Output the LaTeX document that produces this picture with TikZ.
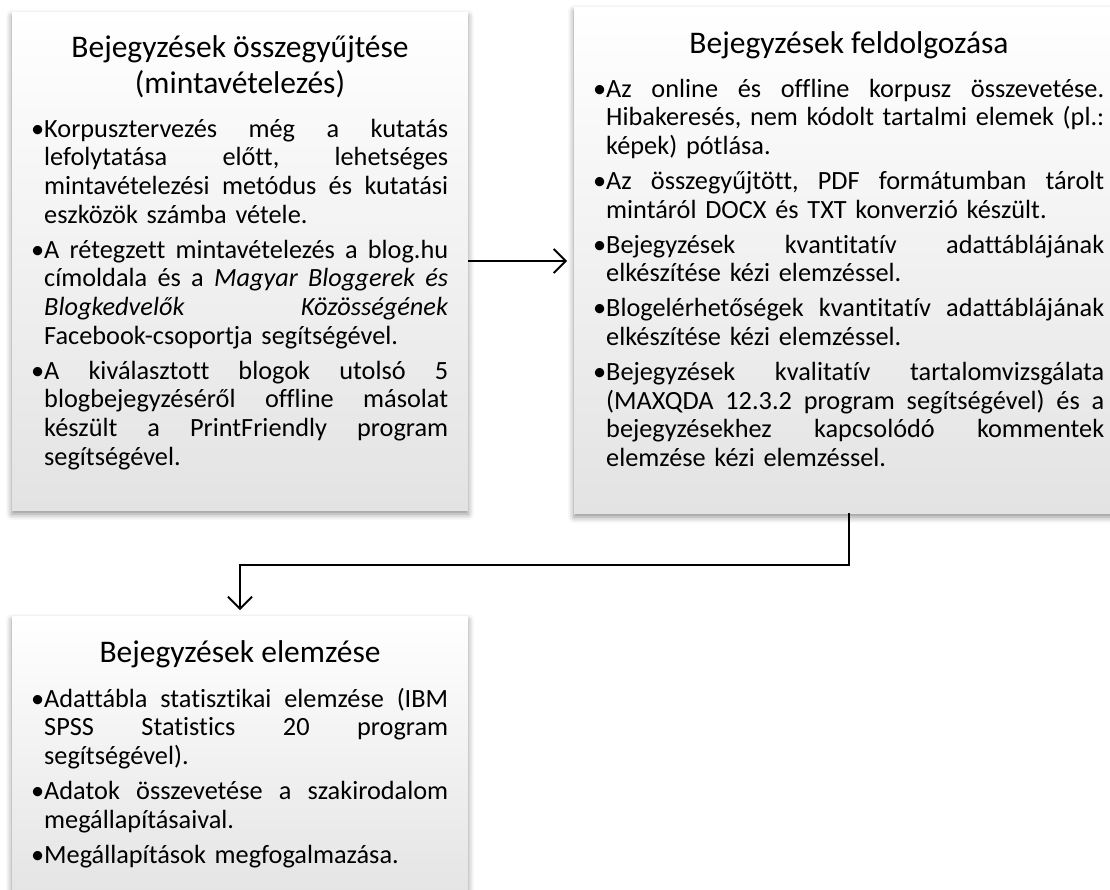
\documentclass[tikz,border=0pt]{standalone}
\usepackage{fontspec}
\setmainfont{Carlito}[Ligatures=CommonOff]
\usetikzlibrary{arrows.meta,shadows.blur}
\newcommand\bul{\leavevmode\llap{•}}
\newcommand\jline[2]{{\frenchspacing\spaceskip=\fontdimen2\font plus 1fil\relax\xspaceskip=\spaceskip\makebox[#1][s]{#2}}}
\newcommand\la[1]{\jline{404pt}{#1}}
\newcommand\lb[1]{\jline{498pt}{#1}}
\tikzset{
  box/.style={inner sep=0pt, outer sep=0pt, draw=none, anchor=north west,
    top color=white, bottom color=black!11,
    blur shadow={shadow xshift=0pt, shadow yshift=-4pt, shadow blur radius=6pt, shadow opacity=45}},
  title/.style={inner sep=0pt, anchor=base, align=center, font=\fontsize{31.5}{36}\selectfont},
  body/.style={inner sep=0pt, anchor=base west, align=left, font=\fontsize{26.3}{28.7}\selectfont},
  conn/.style={line width=1.8pt, -{Straight Barb[length=12pt,width=24pt]}}
}
\begin{document}
\begin{tikzpicture}[x=1pt,y=-1pt]
\useasboundingbox (0,0) rectangle (1110,889);
% boxes
\node[box, minimum width=456pt, minimum height=498pt] (b1) at (12,12) {};
\node[box, minimum width=550pt, minimum height=506pt] (b2) at (574,7) {};
\node[box, minimum width=456pt, minimum height=291pt] (b3) at (12,616) {};
% connectors
\draw[conn] (b1.east) -- ([xshift=-7pt]b2.west |- b1.east);
\draw[conn] (b2.south) -- ++(0,52) -| ([yshift=6pt]b3.north);
% box 1
\node[title] (t1) at (240,93) {Bejegyzések összegyűjtése\\(mintavételezés)};
\node[body, text width=404pt] (x1) at (44,137) {%
\la{\bul Korpusztervezés még a kutatás}\\
\la{lefolytatása előtt, lehetséges}\\
\la{mintavételezési metódus és kutatási}\\
eszközök számba vétele.\\[6.3pt]
\la{\bul A rétegzett mintavételezés a blog.hu}\\
\la{címoldala és a \textit{Magyar Bloggerek és}}\\
\la{\textit{Blogkedvelők Közösségének}}\\
Facebook-csoportja segítségével.\\[6.3pt]
\la{\bul A kiválasztott blogok utolsó 5}\\
\la{blogbejegyzéséről offline másolat}\\
\la{készült a PrintFriendly program}\\
segítségével.};
% box 2
\node[title] (t2) at (849,53) {Bejegyzések feldolgozása};
\node[body, text width=498pt] (x2) at (606,97) {%
\lb{\bul Az online és offline korpusz összevetése.}\\
\lb{Hibakeresés, nem kódolt tartalmi elemek (pl.:}\\
képek) pótlása.\\[6.3pt]
\lb{\bul Az összegyűjtött, PDF formátumban tárolt}\\
mintáról DOCX és TXT konverzió készült.\\[6.3pt]
\lb{\bul Bejegyzések kvantitatív adattáblájának}\\
elkészítése kézi elemzéssel.\\[6.3pt]
\lb{\bul Blogelérhetőségek kvantitatív adattáblájának}\\
elkészítése kézi elemzéssel.\\[6.3pt]
\lb{\bul Bejegyzések kvalitatív tartalomvizsgálata}\\
\lb{(MAXQDA 12.3.2 program segítségével) és a}\\
\lb{bejegyzésekhez kapcsolódó kommentek}\\
elemzése kézi elemzéssel.};
% box 3
\node[title] (t3) at (240,662) {Bejegyzések elemzése};
\node[body, text width=404pt] (x3) at (44,707) {%
\la{\bul Adattábla statisztikai elemzése (IBM}\\
\la{SPSS Statistics 20 program}\\
segítségével).\\[6.3pt]
\la{\bul Adatok összevetése a szakirodalom}\\
megállapításaival.\\[6.3pt]
\bul Megállapítások megfogalmazása.};
\end{tikzpicture}
\end{document}
